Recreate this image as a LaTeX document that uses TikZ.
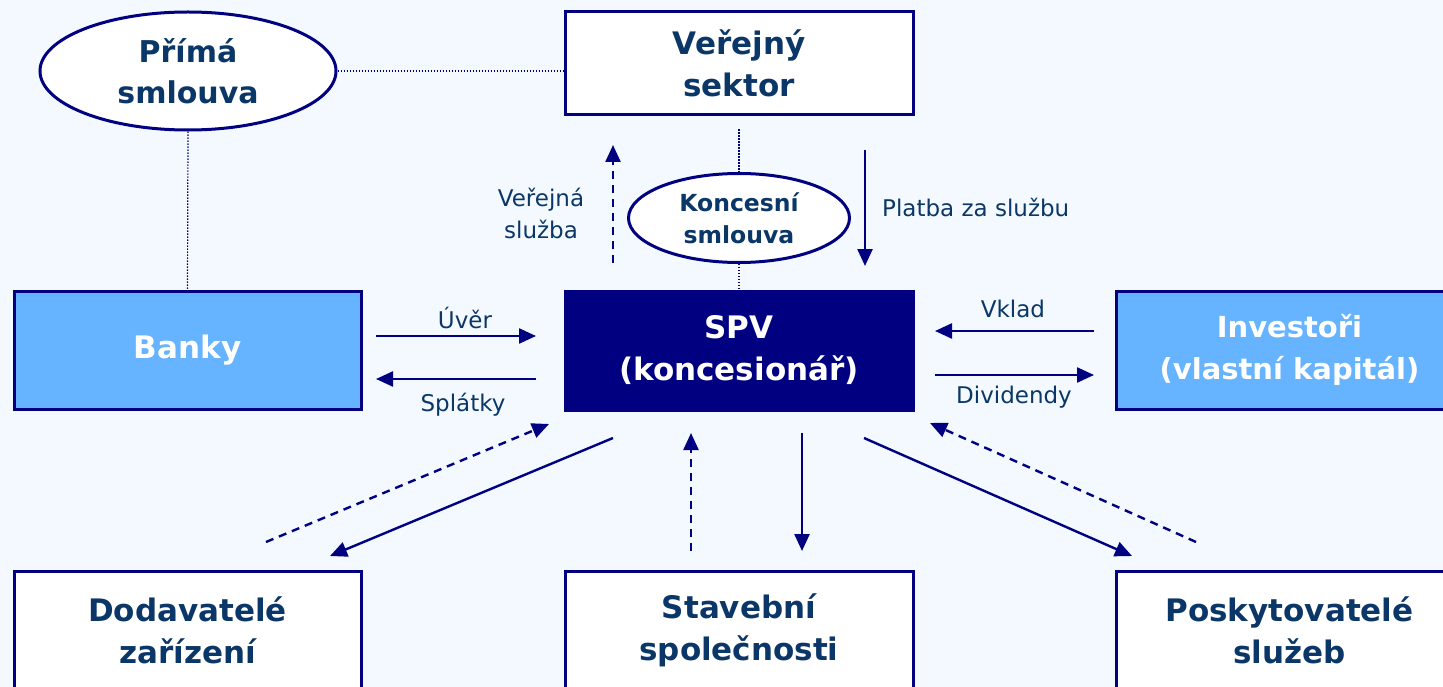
\documentclass[tikz,border=0pt]{standalone}
\usepackage{fontspec}
\setmainfont{DejaVu Sans}
\usetikzlibrary{arrows.meta,shapes.geometric}
\definecolor{navy}{HTML}{000080}
\definecolor{bgc}{HTML}{F3F9FE}
\definecolor{lblue}{HTML}{66B3FF}
\definecolor{txt}{HTML}{0B3768}
\begin{document}
\begin{tikzpicture}[x=1pt,y=-1pt,
  box/.style={draw=navy, line width=3pt, fill=white, minimum width=347pt, minimum height=118pt,
    inner sep=0pt, text=txt, font=\bfseries\fontsize{31}{42}\selectfont, align=center},
  darkbox/.style={box, fill=navy, text=white},
  lightbox/.style={box, fill=lblue, text=white},
  oval/.style={ellipse, draw=navy, line width=3pt, fill=white, inner sep=0pt, text=txt, align=center},
  dotline/.style={draw=navy, line width=1.2pt, dash pattern=on 1.4pt off 1.6pt},
  arr/.style={draw=navy, line width=2.4pt, -{Triangle[length=17pt,width=15pt]}},
  darr/.style={arr, dash pattern=on 8pt off 6pt},
  lbl/.style={text=txt, font=\fontsize{23}{32}\selectfont, align=center, inner sep=0pt}
]
\fill[bgc] (0,0) rectangle (1443,687);
\useasboundingbox (0,0) rectangle (1443,687);
\clip (0,0) rectangle (1443,687);

% nodes
\node[box, minimum width=348pt, minimum height=103pt] (vs) at (739,63.5) {Veřejný\\sektor};
\node[oval, minimum width=296pt, minimum height=118pt, font=\bfseries\fontsize{30}{41}\selectfont] (prima) at (188,71) {Přímá\\smlouva};
\node[oval, minimum width=221pt, minimum height=89pt, font=\bfseries\fontsize{23.5}{32}\selectfont] (ks) at (739,218) {Koncesní\\smlouva};
\node[darkbox, minimum width=348pt, minimum height=119pt] (spv) at (739,350.5) {SPV\\(koncesionář)};
\node[lightbox] (banky) at (187.5,350) {Banky};
\node[lightbox, font=\bfseries\fontsize{29}{42}\selectfont] (inv) at (1289.5,350) {Investoři\\(vlastní kapitál)};
\node[box] (dod) at (187.5,630) {Dodavatelé\\zařízení};
\node[box, minimum width=348pt] (stav) at (739,630) {Stavební\\společnosti};
\node[box] (posk) at (1289.5,630) {Poskytovatelé\\služeb};

% dotted links
\draw[dotline] (prima.east) -- (prima.east -| vs.west);
\draw[dotline] (prima.south) -- (banky.north);
\draw[dotline, shorten <=13pt] (vs.south) -- (ks.north);
\draw[dotline] (ks.south) -- (spv.north);

% arrow end points
\coordinate (vs1) at (613,263); \coordinate (vs2) at (613,145);
\coordinate (pl1) at (865,150); \coordinate (pl2) at (865,266);
\coordinate (uv1) at (376,336); \coordinate (uv2) at (536,336);
\coordinate (sp1) at (536,379); \coordinate (sp2) at (376,379);
\coordinate (vk1) at (1094,331); \coordinate (vk2) at (935,331);
\coordinate (dv1) at (935,375); \coordinate (dv2) at (1094,375);
\coordinate (ld1) at (266,542); \coordinate (ld2) at (549,424);
\coordinate (ls1) at (613,438); \coordinate (ls2) at (330,556);
\coordinate (sd1) at (691,551); \coordinate (sd2) at (691,433);
\coordinate (ss1) at (802,433); \coordinate (ss2) at (802,551);
\coordinate (rs1) at (864,438); \coordinate (rs2) at (1132,556);
\coordinate (rd1) at (1196,542); \coordinate (rd2) at (930,423);

\draw[darr] (vs1) -- (vs2);
\draw[arr] (pl1) -- (pl2);
\draw[arr] (uv1) -- (uv2);
\draw[arr] (sp1) -- (sp2);
\draw[arr] (vk1) -- (vk2);
\draw[arr] (dv1) -- (dv2);
\draw[darr] (ld1) -- (ld2);
\draw[arr] (ls1) -- (ls2);
\draw[darr] (sd1) -- (sd2);
\draw[arr] (ss1) -- (ss2);
\draw[arr] (rs1) -- (rs2);
\draw[darr] (rd1) -- (rd2);

% labels
\node[lbl] (lvs) at (541,213) {Veřejná\\služba};
\node[lbl, anchor=west] (lpl) at (882,207) {Platba za službu};
\node[lbl] (luv) at (465,318) {Úvěr};
\node[lbl] (lsp) at (463,405) {Splátky};
\node[lbl] (lvk) at (1013,309) {Vklad};
\node[lbl] (ldv) at (1014,397) {Dividendy};
\end{tikzpicture}
\end{document}
